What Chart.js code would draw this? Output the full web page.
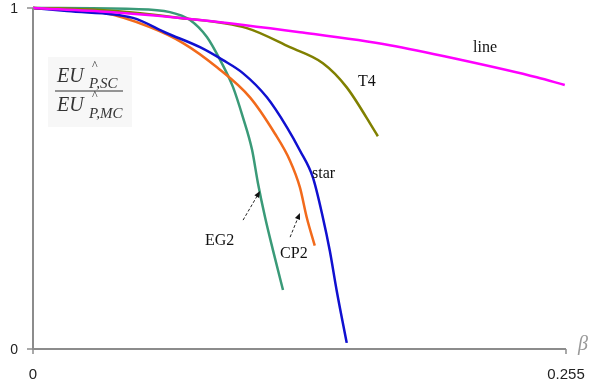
<!DOCTYPE html>
<html lang="en">
  <head>
    <meta charset="UTF-8" />
    <title>EU ratio vs beta</title>
    <style>
      html, body { margin: 0; padding: 0; background: #fff; }
      #chart { display: block; }
    </style>
  </head>
  <body>
    <canvas id="chart" width="590" height="385"></canvas>

    <script src="https://cdn.jsdelivr.net/npm/chart.js"></script>
    <script>
      // beta values and ratio values for each topology
      const lineX = [0, 0.0368, 0.0799, 0.1277, 0.1707, 0.2056, 0.241, 0.2544];
      const lineY = [1, 0.988, 0.965, 0.929, 0.891, 0.847, 0.797, 0.774];

      const t4X = [0, 0.032, 0.0703, 0.1023, 0.1229, 0.1387, 0.15, 0.165];
      const t4Y = [1, 0.994, 0.971, 0.941, 0.885, 0.838, 0.768, 0.624];

      const starX = [0, 0.0163, 0.0478, 0.0641, 0.0799, 0.0909, 0.1004, 0.1119, 0.1215, 0.1277, 0.1339, 0.1387, 0.142, 0.1453, 0.1501];
      const starY = [1, 0.991, 0.971, 0.926, 0.885, 0.847, 0.809, 0.738, 0.65, 0.582, 0.503, 0.385, 0.288, 0.171, 0.018];

      const cp2X = [0, 0.032, 0.0559, 0.0718, 0.088, 0.1038, 0.1157, 0.1229, 0.1277, 0.131, 0.1348];
      const cp2Y = [1, 0.988, 0.944, 0.897, 0.826, 0.738, 0.632, 0.553, 0.474, 0.385, 0.303];

      const eg2X = [0, 0.0478, 0.0655, 0.0751, 0.0832, 0.0895, 0.0957, 0.1004, 0.1048, 0.1076, 0.111, 0.1148, 0.1196];
      const eg2Y = [1, 0.997, 0.988, 0.965, 0.915, 0.848, 0.768, 0.68, 0.584, 0.487, 0.387, 0.29, 0.173];

      const xTicks = [0, 0.255];
      const xTickLabels = ["0", "0.255"];
      const yTicks = [0, 1];
      const yTickLabels = ["0", "1"];

      function pts(xs, ys) {
        return xs.map((x, i) => ({ x: x, y: ys[i] }));
      }

      function series(label, xs, ys, color) {
        return {
          label: label,
          data: pts(xs, ys),
          borderColor: color,
          backgroundColor: color,
          borderWidth: 2.5,
          pointRadius: 0,
          showLine: true,
          cubicInterpolationMode: "monotone",
          clip: false,
        };
      }

      // axes, tick labels, curve names, arrows and the y title
      const decor = {
        id: "decor",
        afterDatasetsDraw(chart) {
          const ctx = chart.ctx;
          const xs = chart.scales.x;
          const ys = chart.scales.y;
          const X = (v) => xs.getPixelForValue(v);
          const Y = (v) => ys.getPixelForValue(v);
          const x0 = X(0), y0 = Y(0);

          ctx.save();
          ctx.strokeStyle = "#8c8c8c";
          ctx.lineWidth = 2;
          ctx.beginPath();
          ctx.moveTo(x0, Y(1));
          ctx.lineTo(x0, y0);
          ctx.lineTo(X(0.255), y0);
          ctx.stroke();

          ctx.lineWidth = 1.5;
          ctx.fillStyle = "#222";
          ctx.font = "14px 'Liberation Sans', Arial, sans-serif";
          ctx.textAlign = "right";
          ctx.textBaseline = "middle";
          yTicks.forEach((v, i) => {
            ctx.beginPath();
            ctx.moveTo(x0 - 6, Y(v));
            ctx.lineTo(x0, Y(v));
            ctx.stroke();
            ctx.fillText(yTickLabels[i], x0 - 15, Y(v) + 1);
          });
          ctx.textAlign = "center";
          ctx.textBaseline = "top";
          ctx.font = "15px 'Liberation Sans', Arial, sans-serif";
          xTicks.forEach((v, i) => {
            ctx.beginPath();
            ctx.moveTo(X(v), y0);
            ctx.lineTo(X(v), y0 + 5);
            ctx.stroke();
            ctx.fillText(xTickLabels[i], X(v), y0 + 18);
          });

          // beta axis name
          ctx.fillStyle = "#999";
          ctx.font = "italic 20px 'Liberation Serif', serif";
          ctx.textAlign = "left";
          ctx.textBaseline = "alphabetic";
          ctx.fillText("β", X(0.255) + 12, y0 + 1);

          // curve names
          ctx.fillStyle = "#111";
          ctx.font = "16px 'Liberation Serif', 'Times New Roman', serif";
          [["line", 0.2105, 0.871], ["T4", 0.1555, 0.771], ["star", 0.1335, 0.501],
           ["EG2", 0.0823, 0.305], ["CP2", 0.1182, 0.267]].forEach((n) => {
            ctx.fillText(n[0], X(n[1]), Y(n[2]));
          });

          // dashed arrows
          [[0.1005, 0.378, 0.1086, 0.463], [0.123, 0.328, 0.1277, 0.399]].forEach((a) => {
            const ax = X(a[0]), ay = Y(a[1]), bx = X(a[2]), by = Y(a[3]);
            const ang = Math.atan2(by - ay, bx - ax);
            ctx.strokeStyle = "#222";
            ctx.lineWidth = 1;
            ctx.setLineDash([3, 2]);
            ctx.beginPath();
            ctx.moveTo(ax, ay);
            ctx.lineTo(bx - 5 * Math.cos(ang), by - 5 * Math.sin(ang));
            ctx.stroke();
            ctx.setLineDash([]);
            ctx.beginPath();
            ctx.moveTo(bx, by);
            ctx.lineTo(bx - 7 * Math.cos(ang - 0.4), by - 7 * Math.sin(ang - 0.4));
            ctx.lineTo(bx - 7 * Math.cos(ang + 0.4), by - 7 * Math.sin(ang + 0.4));
            ctx.closePath();
            ctx.fill();
          });

          // y title: EU^_{P,SC} / EU^_{P,MC}
          ctx.fillStyle = "#f7f7f7";
          ctx.fillRect(48, 57, 84, 70);
          ctx.fillStyle = "#333";
          ctx.font = "italic 20px 'Liberation Serif', serif";
          ctx.fillText("EU", 57, 82);
          ctx.fillText("EU", 57, 111);
          ctx.font = "italic 15px 'Liberation Serif', serif";
          ctx.fillText("P,SC", 89, 88);
          ctx.fillText("P,MC", 89, 118);
          ctx.font = "12px 'Liberation Serif', serif";
          ctx.fillText("^", 92, 69);
          ctx.fillText("^", 92, 99);
          ctx.strokeStyle = "#333";
          ctx.lineWidth = 1.2;
          ctx.beginPath();
          ctx.moveTo(55, 91);
          ctx.lineTo(123, 91);
          ctx.stroke();
          ctx.restore();
        },
      };

      new Chart(document.getElementById("chart"), {
        type: "scatter",
        data: {
          datasets: [
            series("line", lineX, lineY, "#ff00ff"),
            series("T4", t4X, t4Y, "#808000"),
            series("star", starX, starY, "#1010d0"),
            series("CP2", cp2X, cp2Y, "#f26a1b"),
            series("EG2", eg2X, eg2Y, "#3a9a78"),
          ],
        },
        options: {
          responsive: false,
          animation: false,
          layout: { padding: { left: 33, top: 8, right: 24, bottom: 36 } },
          plugins: { legend: { display: false }, tooltip: { enabled: false } },
          scales: {
            x: { type: "linear", min: 0, max: 0.255, display: false },
            y: { min: 0, max: 1, display: false },
          },
        },
        plugins: [decor],
      });
    </script>
  </body>
</html>
